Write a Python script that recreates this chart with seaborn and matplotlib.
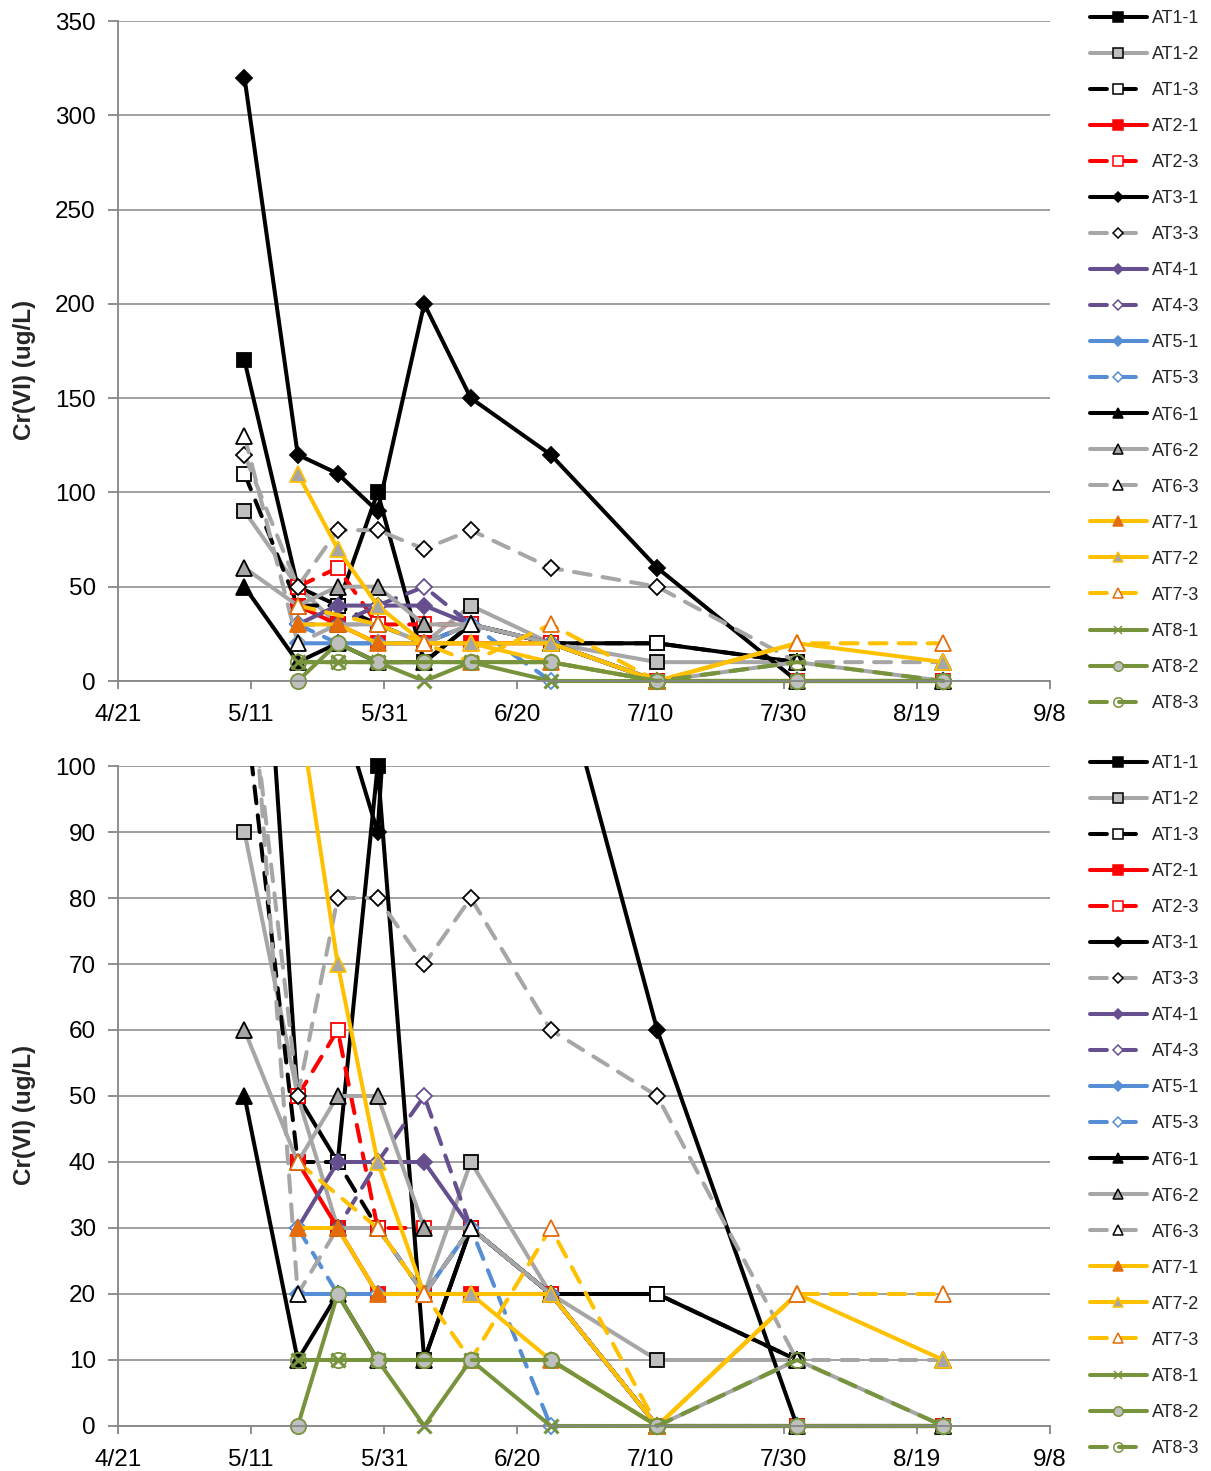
import matplotlib
matplotlib.use("Agg")
import matplotlib.pyplot as plt
import matplotlib.dates as mdates
from matplotlib.lines import Line2D
from matplotlib.ticker import FuncFormatter, MultipleLocator
from matplotlib.transforms import Bbox, TransformedBbox
import pandas as pd
import seaborn as sns

sns.set_theme(style="white")
plt.rcParams["font.family"] = ["Liberation Sans", "DejaVu Sans"]

# ---------------- data ----------------
sample_dates = ["2013-05-10", "2013-05-18", "2013-05-24", "2013-05-30", "2013-06-06",
                "2013-06-13", "2013-06-25", "2013-07-11", "2013-08-01", "2013-08-23"]
N = None
AT1_1 = [170, 50, 40, 100, 10, 30, 20, 20, 10, N]
AT1_2 = [90, 50, 30, 30, 20, 40, 20, 10, 10, N]
AT1_3 = [110, 40, 40, 30, 20, 30, 20, 20, 10, N]
AT2_1 = [N, 40, 30, 20, 20, 20, 20, 0, 0, 0]
AT2_3 = [N, 50, 60, 30, 30, 30, 20, 0, 0, 0]
AT3_1 = [320, 120, 110, 90, 200, 150, 120, 60, 0, 0]
AT3_3 = [120, 50, 80, 80, 70, 80, 60, 50, 10, N]
AT4_1 = [N, 30, 40, 40, 40, 30, 20, 0, 0, 0]
AT4_3 = [N, 30, 30, 40, 50, 30, 20, 0, 0, 0]
AT5_1 = [N, 20, 20, 20, 20, 30, 20, 0, 0, 0]
AT5_3 = [N, 30, 20, 20, 20, 30, 0, 0, 0, 0]
AT6_1 = [50, 10, 20, 10, 10, 30, 20, 0, 0, 0]
AT6_2 = [60, 40, 50, 50, 30, 30, 20, 0, 10, 0]
AT6_3 = [130, 20, 30, 30, 20, 30, 20, 0, 10, 10]
AT7_1 = [N, 30, 30, 20, 20, 20, 10, 0, 20, N]
AT7_2 = [N, 110, 70, 40, 20, 20, 20, 0, 20, 10]
AT7_3 = [N, 40, N, 30, 20, 10, 30, 0, 20, 20]
AT8_1 = [N, 10, 10, 10, 0, 10, 0, 0, 0, 0]
AT8_2 = [N, 0, 20, 10, 10, 10, 10, 0, 0, 0]
AT8_3 = [N, 10, 10, 10, 10, 10, 10, 0, 10, 0]

series_names = ["AT1-1", "AT1-2", "AT1-3", "AT2-1", "AT2-3", "AT3-1", "AT3-3", "AT4-1",
                "AT4-3", "AT5-1", "AT5-3", "AT6-1", "AT6-2", "AT6-3", "AT7-1", "AT7-2",
                "AT7-3", "AT8-1", "AT8-2", "AT8-3"]
series_values = [AT1_1, AT1_2, AT1_3, AT2_1, AT2_3, AT3_1, AT3_3, AT4_1, AT4_3, AT5_1,
                 AT5_3, AT6_1, AT6_2, AT6_3, AT7_1, AT7_2, AT7_3, AT8_1, AT8_2, AT8_3]

# ---------------- styles ----------------
BLACK = "#000000"; GRAY = "#A6A6A6"; LGRAY = "#BFBFBF"; RED = "#FF0000"
PURPLE = "#654F8E"; BLUE = "#558ED5"; GOLD = "#FFC000"; ORANGE = "#E46C0A"
GREEN = "#77933C"; WHITE = "#FFFFFF"
DASH = (0, (4.2, 3.0))
S = {
    "AT1-1": (BLACK, "-", "s", BLACK, BLACK, 10.5),
    "AT1-2": (GRAY, "-", "s", LGRAY, BLACK, 10.5),
    "AT1-3": (BLACK, DASH, "s", WHITE, BLACK, 10.5),
    "AT2-1": (RED, "-", "s", RED, RED, 10.5),
    "AT2-3": (RED, DASH, "s", WHITE, RED, 10.5),
    "AT3-1": (BLACK, "-", "D", BLACK, BLACK, 8.5),
    "AT3-3": (GRAY, DASH, "D", WHITE, BLACK, 8.5),
    "AT4-1": (PURPLE, "-", "D", PURPLE, PURPLE, 8.5),
    "AT4-3": (PURPLE, DASH, "D", WHITE, PURPLE, 8.5),
    "AT5-1": (BLUE, "-", "D", BLUE, BLUE, 8.5),
    "AT5-3": (BLUE, DASH, "D", WHITE, BLUE, 8.5),
    "AT6-1": (BLACK, "-", "^", BLACK, BLACK, 11),
    "AT6-2": (GRAY, "-", "^", GRAY, BLACK, 11),
    "AT6-3": (GRAY, DASH, "^", WHITE, BLACK, 11),
    "AT7-1": (GOLD, "-", "^", ORANGE, ORANGE, 11),
    "AT7-2": (GOLD, "-", "^", GRAY, GOLD, 11),
    "AT7-3": (GOLD, DASH, "^", WHITE, ORANGE, 11),
    "AT8-1": (GREEN, "-", "x", GREEN, GREEN, 10),
    "AT8-2": (GREEN, "-", "o", LGRAY, GREEN, 11),
    "AT8-3": (GREEN, DASH, "o", "none", GREEN, 11),
}
LW = 2.9
AXCOL = "#868686"

W, H = 1211, 1471
fig = plt.figure(figsize=(W / 100, H / 100), dpi=100)
ax_top = fig.add_axes([118 / W, 1 - 681 / H, 932 / W, 660 / H])
ax_bot = fig.add_axes([118 / W, 1 - 1426 / H, 932 / W, 660 / H])

dates = pd.to_datetime(sample_dates)


def draw(ax, ymax, ystep):
    ax.set_xlim(pd.Timestamp("2013-04-21"), pd.Timestamp("2013-09-08"))
    ax.set_ylim(0, ymax)
    clipbox = TransformedBbox(Bbox([[-0.01, -0.03], [1.01, 1.0]]), ax.transAxes)
    for name, vals in zip(series_names, series_values):
        c, ls, m, fc, ec, ms = S[name]
        df = pd.DataFrame({"date": dates, "v": vals}).dropna()
        n0 = len(ax.lines)
        sns.lineplot(data=df, x="date", y="v", ax=ax, color=c, lw=LW, linestyle=ls,
                     estimator=None, sort=False, solid_capstyle="round",
                     dash_capstyle="round", solid_joinstyle="round")
        for ln in ax.lines[n0:]:
            ln.set_clip_box(clipbox)
        inside = df[df["v"] <= ymax]
        sns.lineplot(data=inside, x="date", y="v", ax=ax, color=c, linestyle="none",
                     estimator=None, sort=False, marker=m, markersize=ms,
                     markerfacecolor=fc, markeredgecolor=ec,
                     markeredgewidth=(2.2 if m == "x" else 1.3), clip_on=False)
    ax.set_xlabel("")
    ax.set_ylabel("")
    ticks = pd.date_range("2013-04-21", "2013-09-08", freq="20D")
    ax.set_xticks(ticks)
    ax.xaxis.set_major_formatter(FuncFormatter(
        lambda x, p: "%d/%d" % (mdates.num2date(x).month, mdates.num2date(x).day)))
    ax.yaxis.set_major_locator(MultipleLocator(ystep))
    ax.yaxis.grid(True, color=AXCOL, lw=1.1)
    ax.xaxis.grid(False)
    ax.set_axisbelow(True)
    for sp in ["top", "right"]:
        ax.spines[sp].set_visible(False)
    for sp in ["left", "bottom"]:
        ax.spines[sp].set_color(AXCOL)
        ax.spines[sp].set_linewidth(1.3)
    ax.tick_params(axis="y", direction="out", length=7, width=1.3, color=AXCOL,
                   labelsize=17.5, pad=9, left=True, labelcolor="black")
    ax.tick_params(axis="x", direction="out", length=6, width=1.3, color=AXCOL,
                   labelsize=17.5, pad=10.5, bottom=True, labelcolor="black")
    ax.set_facecolor("white")


draw(ax_top, 350, 50)
draw(ax_bot, 100, 10)

for yc in (370, 1115):
    fig.text(25 / W, 1 - yc / H, "Cr(VI) (ug/L)", rotation=90, ha="center", va="center",
             fontsize=17.5, fontweight="bold")

handles = []
for name in series_names:
    c, ls, m, fc, ec, ms = S[name]
    handles.append(Line2D([], [], color=c, lw=LW, linestyle=ls, marker=m,
                          markersize=ms * 0.62, markerfacecolor=fc,
                          markeredgecolor=ec, markeredgewidth=1.1,
                          solid_capstyle="round", dash_capstyle="round"))

for ytop in (10, 755):
    fig.legend(handles, series_names, loc="upper left",
               bbox_to_anchor=(1090 / W, 1 - ytop / H), frameon=False, fontsize=13,
               labelspacing=1.055, handlelength=3.15, handletextpad=0.3,
               borderpad=0, borderaxespad=0, markerscale=1.0)

fig.savefig("out.png", dpi=100, facecolor="white")
